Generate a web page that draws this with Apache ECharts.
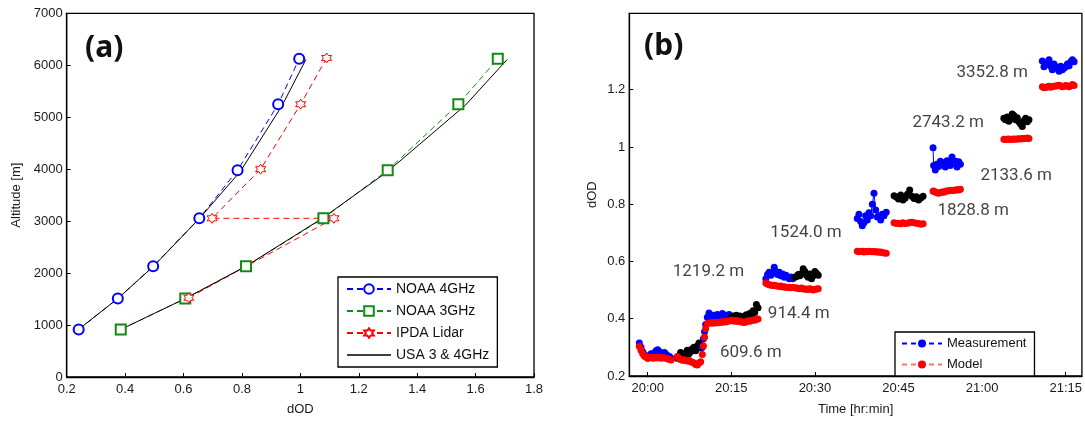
<!DOCTYPE html>
<html>
<head>
<meta charset="utf-8">
<script src="https://cdn.jsdelivr.net/npm/echarts@6/dist/echarts.min.js"></script>
<style>
html, body { margin: 0; padding: 0; background: #fff; }
#main { width: 1085px; height: 421px; }
</style>
</head>
<body>
<div id="main"></div>
<script>
// (a) altitude profiles
var altNoaa = [914, 1510, 2130, 3054, 3980, 5250, 6125];
var dodNoaa4 = [0.241, 0.375, 0.496, 0.654, 0.785, 0.924, 0.996];
var dodNoaa3 = [0.385, 0.606, 0.814, 1.079, 1.299, 1.541, 1.676];
var altIpda = [1525, 3054, 3054, 4000, 5250, 6140];
var dodIpda = [0.618, 1.115, 0.698, 0.864, 1.001, 1.090];
var altUsa = [914, 1510, 2130, 3054, 3960, 5230, 6110];
var dodUsa4 = [0.240, 0.375, 0.497, 0.655, 0.795, 0.938, 1.019];
var dodUsa3 = [0.385, 0.606, 0.813, 1.075, 1.300, 1.565, 1.708];

// (b) legs, time in minutes after 20:00
var legTimes = [
  [-1.5,-1.2,-0.9,-0.6,-0.3,0.0,0.3,0.6,0.9,1.2,1.5,1.8,2.1,2.4,2.7,3.0,3.3,3.6,3.9,4.2],
  [5.3,5.6,5.9,6.2,6.5,6.8,7.1,7.4,7.7,8.0,8.3,8.6,8.9,9.2,9.5],
  [9.8,10.0,10.2,10.4,10.7,11.0,11.3,11.6,11.9,12.2,12.5,12.8,13.1,13.4,13.7,14.0,14.3,14.6],
  [15.0,15.3,15.6,15.9,16.2,16.5,16.8,17.1,17.4,17.7,18.0,18.3,18.6,18.9,19.2,19.5,19.8],
  [21.2,21.5,21.8,22.1,22.4,22.7,23.0,23.3,23.6,23.9,24.2,24.5,24.8,25.1,25.4,25.7,26.0],
  [26.4,26.7,27.0,27.3,27.6,27.9,28.2,28.5,28.8,29.1,29.4,29.7,30.0,30.3,30.6],
  [37.6,37.9,38.2,38.5,38.8,39.1,39.4,39.7,40.0,40.3,40.6,40.9,41.2,41.5,41.8,42.1,42.4,42.8],
  [44.2,44.6,45.0,45.4,45.8,46.2,46.6,47.0,47.4,47.8,48.2,48.6,49.0,49.4],
  [51.2,51.3,51.6,51.9,52.2,52.5,52.8,53.1,53.4,53.7,54.0,54.3,54.6,54.9,55.2,55.5,55.8,56.1],
  [63.9,64.2,64.5,64.8,65.1,65.4,65.7,66.0,66.3,66.6,66.9,67.2,67.5,67.8,68.1,68.4],
  [70.8,71.1,71.4,71.7,72.0,72.3,72.6,72.9,73.2,73.5,73.8,74.1,74.4,74.7,75.0,75.3,75.6,75.9,76.2,76.5]
];
var legMeas = [
  [0.315,0.300,0.285,0.275,0.268,0.262,0.270,0.278,0.272,0.280,0.288,0.292,0.285,0.280,0.275,0.282,0.276,0.270,0.268,0.262],
  [0.262,0.270,0.282,0.275,0.268,0.280,0.290,0.278,0.285,0.295,0.300,0.288,0.305,0.315,0.298],
  [0.300,0.330,0.355,0.380,0.405,0.420,0.410,0.400,0.412,0.405,0.415,0.402,0.410,0.418,0.408,0.412,0.405,0.415],
  [0.405,0.410,0.408,0.412,0.406,0.410,0.408,0.405,0.410,0.414,0.408,0.418,0.412,0.428,0.422,0.450,0.438],
  [0.540,0.555,0.562,0.552,0.560,0.580,0.565,0.555,0.562,0.550,0.556,0.545,0.552,0.546,0.540,0.546,0.540],
  [0.545,0.548,0.555,0.550,0.558,0.575,0.565,0.552,0.545,0.556,0.540,0.550,0.565,0.558,0.552],
  [0.750,0.765,0.740,0.725,0.735,0.760,0.745,0.770,0.760,0.800,0.838,0.780,0.755,0.760,0.745,0.765,0.760,0.772],
  [0.830,0.825,0.818,0.832,0.815,0.822,0.835,0.850,0.828,0.820,0.826,0.815,0.822,0.828],
  [0.997,0.935,0.920,0.940,0.932,0.950,0.938,0.945,0.930,0.952,0.945,0.935,0.965,0.942,0.950,0.930,0.948,0.940],
  [1.100,1.095,1.105,1.090,1.098,1.115,1.110,1.095,1.102,1.088,1.080,1.072,1.092,1.100,1.088,1.095],
  [1.300,1.280,1.288,1.292,1.305,1.282,1.270,1.290,1.280,1.275,1.265,1.282,1.270,1.276,1.280,1.290,1.284,1.298,1.305,1.298]
];
var legModel = [
  [0.303,0.290,0.278,0.270,0.266,0.263,0.264,0.266,0.262,0.265,0.263,0.266,0.264,0.262,0.265,0.263,0.262,0.260,0.258,0.256],
  [0.268,0.262,0.258,0.255,0.257,0.254,0.252,0.255,0.250,0.248,0.245,0.240,0.238,0.245,0.250],
  [0.275,0.305,0.335,0.365,0.383,0.385,0.386,0.384,0.387,0.385,0.388,0.386,0.389,0.388,0.390,0.389,0.391,0.392],
  [0.395,0.393,0.391,0.394,0.390,0.392,0.389,0.388,0.387,0.390,0.393,0.391,0.394,0.396,0.395,0.398,0.399],
  [0.525,0.521,0.519,0.518,0.516,0.517,0.515,0.514,0.513,0.514,0.511,0.512,0.510,0.509,0.510,0.508,0.509],
  [0.508,0.507,0.506,0.505,0.507,0.505,0.503,0.504,0.502,0.505,0.503,0.500,0.502,0.504,0.505],
  [0.636,0.634,0.635,0.636,0.633,0.635,0.634,0.636,0.635,0.634,0.635,0.633,0.634,0.632,0.633,0.631,0.630,0.629],
  [0.735,0.733,0.734,0.732,0.735,0.733,0.734,0.736,0.737,0.735,0.734,0.733,0.730,0.732],
  [0.845,0.846,0.843,0.840,0.838,0.841,0.843,0.842,0.845,0.846,0.847,0.848,0.849,0.848,0.850,0.851,0.850,0.852],
  [1.027,1.026,1.027,1.028,1.026,1.027,1.028,1.027,1.028,1.029,1.028,1.030,1.029,1.030,1.031,1.030],
  [1.210,1.207,1.208,1.210,1.212,1.209,1.211,1.212,1.213,1.214,1.216,1.213,1.210,1.212,1.215,1.213,1.210,1.214,1.218,1.215]
];
var legLabels = ['609.6 m', '1219.2 m', '914.4 m', '1524.0 m', '1828.8 m', '2743.2 m', '2133.6 m', '3352.8 m'];
var labelTime = [18.5, 10.9, 27.1, 28.4, 58.4, 53.9, 66.1, 61.8];
var labelDod = [0.280, 0.564, 0.418, 0.699, 0.779, 1.083, 0.900, 1.261];
var timeTicks = [0, 15, 30, 45, 60, 75];
var dodTicks = [0.2, 0.4, 0.6, 0.8, 1.0, 1.2];

var hexagram = 'path://M10 0L12.89 5L18.66 5L15.77 10L18.66 15L12.89 15L10 20L7.11 15L1.34 15L4.23 10L1.34 5L7.11 5Z';
var axisFont = { color: '#1a1a1a', fontSize: 13, fontFamily: 'Liberation Sans' };
var narrow = "'Liberation Sans Narrow', 'Roboto', sans-serif";
var axisLn = { onZero: false, lineStyle: { color: '#000', width: 1.3 } };

function pairs(xs, ys) {
  return xs.map(function (x, i) { return [x, ys[i]]; });
}
function hhmm(v) {
  var m = Math.round(v);
  return (20 + Math.floor(m / 60)) + ':' + ('0' + (m % 60)).slice(-2);
}

var series = [
  { name: 'NOAA 4GHz', type: 'line', xAxisIndex: 0, yAxisIndex: 0, data: pairs(dodNoaa4, altNoaa),
    symbol: 'emptyCircle', symbolSize: 10, color: '#0000ff',
    lineStyle: { width: 1, type: [6, 4], color: '#0000ff' }, itemStyle: { borderWidth: 1 } },
  { name: 'NOAA 3GHz', type: 'line', xAxisIndex: 0, yAxisIndex: 0, data: pairs(dodNoaa3, altNoaa),
    symbol: 'emptyRect', symbolSize: 10, color: '#138a13',
    lineStyle: { width: 1, type: [6, 4], color: '#138a13' }, itemStyle: { borderWidth: 1 } },
  { name: 'IPDA Lidar', type: 'line', xAxisIndex: 0, yAxisIndex: 0, data: pairs(dodIpda, altIpda),
    symbol: hexagram, symbolSize: 10,
    lineStyle: { width: 1, type: [6, 4], color: '#ff0000' },
    itemStyle: { color: '#fff', borderColor: '#ff0000', borderWidth: 1 } },
  { name: 'USA 3 & 4GHz', type: 'line', xAxisIndex: 0, yAxisIndex: 0, data: pairs(dodUsa4, altUsa),
    symbol: 'none', color: '#000', lineStyle: { width: 1, color: '#000' } },
  { name: 'USA 3 & 4GHz', type: 'line', xAxisIndex: 0, yAxisIndex: 0, data: pairs(dodUsa3, altUsa),
    symbol: 'none', color: '#000', lineStyle: { width: 1, color: '#000' } }
];

legTimes.forEach(function (t, i) {
  var col = i % 2 === 0 ? '#0000ff' : '#000000';
  series.push({
    name: i % 2 === 0 ? 'Measurement' : 'Measurement alt', type: 'line', xAxisIndex: 1, yAxisIndex: 1,
    data: pairs(t, legMeas[i]), symbol: 'circle', symbolSize: 7, showAllSymbol: true,
    color: col, lineStyle: { width: 1, color: col }, itemStyle: { color: col }
  });
});
legTimes.forEach(function (t, i) {
  series.push({
    name: 'Model', type: 'line', xAxisIndex: 1, yAxisIndex: 1,
    data: pairs(t, legModel[i]), symbol: 'circle', symbolSize: 7, showAllSymbol: true,
    color: '#ff0000', lineStyle: { width: 1, color: '#ff0000' }, itemStyle: { color: '#ff0000' }
  });
});
series.push({
  name: 'labels', type: 'scatter', xAxisIndex: 1, yAxisIndex: 1, silent: true,
  symbolSize: 1, itemStyle: { color: 'rgba(0,0,0,0)' },
  data: legLabels.map(function (s, i) { return [labelTime[i], labelDod[i], s]; }),
  label: { show: true, position: 'inside', formatter: function (p) { return p.value[2]; },
    color: '#111', fontSize: 17, fontFamily: narrow }
});

var chart = echarts.init(document.getElementById('main'), null, { renderer: 'canvas' });
chart.setOption({
  animation: false,
  backgroundColor: '#fff',
  grid: [
    { left: 66.7, top: 13.3, width: 467.3, height: 366.7, show: true, borderColor: '#000', borderWidth: 1.3, backgroundColor: '#fff' },
    { left: 629.3, top: 13.3, width: 454, height: 368.4, show: true, borderColor: '#000', borderWidth: 1.3, backgroundColor: '#fff' }
  ],
  xAxis: [
    { type: 'value', gridIndex: 0, min: 0.2, max: 1.8, interval: 0.2,
      name: 'dOD', nameLocation: 'middle', nameGap: 26, nameTextStyle: axisFont,
      axisLine: axisLn,
      axisTick: { inside: true, length: 4, lineStyle: { color: '#000' } },
      axisLabel: Object.assign({ margin: 6 }, axisFont), splitLine: { show: false } },
    { type: 'value', gridIndex: 1, min: -3.3, max: 77.9,
      name: 'Time [hr:min]', nameLocation: 'middle', nameGap: 27, nameTextStyle: axisFont,
      axisLine: axisLn,
      axisTick: { inside: true, length: 4, customValues: timeTicks, lineStyle: { color: '#000' } },
      axisLabel: Object.assign({ margin: 6, customValues: timeTicks, formatter: hhmm }, axisFont),
      splitLine: { show: false } }
  ],
  yAxis: [
    { type: 'value', gridIndex: 0, min: 0, max: 7000, interval: 1000,
      name: 'Altitude [m]', nameLocation: 'middle', nameGap: 44, nameTextStyle: axisFont,
      axisLine: axisLn,
      axisTick: { inside: true, length: 4, lineStyle: { color: '#000' } },
      axisLabel: Object.assign({ margin: 4, formatter: function (v) { return String(v); } }, axisFont),
      splitLine: { show: false } },
    { type: 'value', gridIndex: 1, min: 0.2, max: 1.467,
      name: 'dOD', nameLocation: 'middle', nameGap: 30, nameTextStyle: axisFont,
      axisLine: axisLn,
      axisTick: { inside: true, length: 4, customValues: dodTicks, lineStyle: { color: '#000' } },
      axisLabel: Object.assign({ margin: 4, customValues: dodTicks,
        formatter: function (v) { return String(parseFloat(v.toFixed(2))); } }, axisFont),
      splitLine: { show: false } }
  ],
  legend: [
    { data: ['NOAA 4GHz', 'NOAA 3GHz', 'IPDA Lidar',
        { name: 'USA 3 & 4GHz', icon: 'path://M0 0L44 0L44 1.4L0 1.4Z', itemStyle: { color: '#000' } }],
      orient: 'vertical', left: 338, top: 277, padding: [5, 8, 5, 8],
      itemWidth: 44, itemHeight: 12, itemGap: 8, backgroundColor: '#fff',
      borderColor: '#000', borderWidth: 1.3, borderRadius: 0,
      textStyle: { color: '#111', fontSize: 14, fontFamily: 'Liberation Sans' } },
    { data: [
        { name: 'Measurement', lineStyle: { type: [5, 4] } },
        { name: 'Model', lineStyle: { type: [5, 4], color: '#ff6f6f' } }
      ],
      orient: 'vertical', left: 895, top: 332, padding: [5, 8, 5, 6],
      itemWidth: 40, itemHeight: 10, itemGap: 8, backgroundColor: '#fff',
      borderColor: '#000', borderWidth: 1.3, borderRadius: 0,
      textStyle: { color: '#111', fontSize: 13, fontFamily: 'Liberation Sans' } }
  ],
  graphic: [
    { type: 'text', left: 85, top: 33, style: { text: '(a)', font: 'bold 30px "Noto Sans", sans-serif', fill: '#111' } },
    { type: 'text', left: 644, top: 31, style: { text: '(b)', font: 'bold 30px "Noto Sans", sans-serif', fill: '#111' } }
  ],
  series: series
});
window.addEventListener('resize', function () { chart.resize(); });
</script>
</body>
</html>
